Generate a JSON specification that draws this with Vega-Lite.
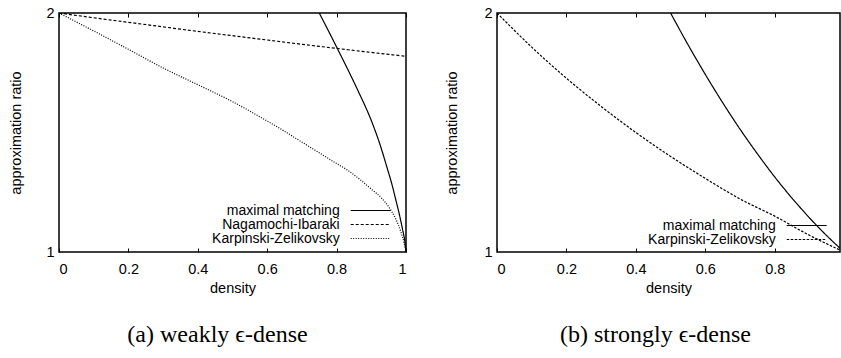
{
  "$schema": "https://vega.github.io/schema/vega-lite/v6.json",
  "background": "white",
  "padding": {"left": 8, "top": 4, "right": 0, "bottom": 5},
  "bounds": "flush",
  "spacing": 91,
  "resolve": {"scale": {"strokeDash": "independent", "x": "independent", "y": "independent"}, "legend": {"strokeDash": "independent"}},
  "config": {
    "font": "Liberation Sans",
    "view": {"stroke": "black", "strokeWidth": 1.5},
    "axis": {"domain": false, "grid": false, "tickColor": "black", "tickSize": 4, "tickWidth": 1, "labelColor": "black", "titleColor": "black", "labelFont": "Liberation Sans", "titleFont": "Liberation Sans", "labelFontSize": 14.5, "titleFontSize": 14.5, "titleFontWeight": "normal"},
    "legend": {"orient": "none", "title": null, "symbolType": "M-10,0H10", "symbolSize": 16, "symbolStrokeWidth": 1.2, "symbolStrokeColor": "black", "symbolFillColor": "transparent", "labelAlign": "right", "labelOffset": -38, "labelFontSize": 14, "labelColor": "black", "labelFont": "Liberation Sans", "rowPadding": 0, "padding": 0, "labelLimit": 0}
  },
  "datasets": {
    "weak": [
      {"series": "maximal matching", "density": 0.75, "ratio": 2.0},
      {"series": "maximal matching", "density": 0.803, "ratio": 1.849},
      {"series": "maximal matching", "density": 0.86, "ratio": 1.68},
      {"series": "maximal matching", "density": 0.9, "ratio": 1.55},
      {"series": "maximal matching", "density": 0.925, "ratio": 1.45},
      {"series": "maximal matching", "density": 0.945, "ratio": 1.355},
      {"series": "maximal matching", "density": 0.96, "ratio": 1.28},
      {"series": "maximal matching", "density": 0.972, "ratio": 1.21},
      {"series": "maximal matching", "density": 0.982, "ratio": 1.15},
      {"series": "maximal matching", "density": 0.99, "ratio": 1.095},
      {"series": "maximal matching", "density": 0.996, "ratio": 1.05},
      {"series": "maximal matching", "density": 1.0, "ratio": 1.0},
      {"series": "Nagamochi-Ibaraki", "density": 0.0, "ratio": 2.0},
      {"series": "Nagamochi-Ibaraki", "density": 0.1, "ratio": 1.98},
      {"series": "Nagamochi-Ibaraki", "density": 0.2, "ratio": 1.961},
      {"series": "Nagamochi-Ibaraki", "density": 0.3, "ratio": 1.942},
      {"series": "Nagamochi-Ibaraki", "density": 0.4, "ratio": 1.923},
      {"series": "Nagamochi-Ibaraki", "density": 0.5, "ratio": 1.905},
      {"series": "Nagamochi-Ibaraki", "density": 0.6, "ratio": 1.887},
      {"series": "Nagamochi-Ibaraki", "density": 0.7, "ratio": 1.869},
      {"series": "Nagamochi-Ibaraki", "density": 0.8, "ratio": 1.852},
      {"series": "Nagamochi-Ibaraki", "density": 0.9, "ratio": 1.835},
      {"series": "Nagamochi-Ibaraki", "density": 1.0, "ratio": 1.819},
      {"series": "Karpinski-Zelikovsky", "density": 0.0, "ratio": 2.0},
      {"series": "Karpinski-Zelikovsky", "density": 0.1, "ratio": 1.925},
      {"series": "Karpinski-Zelikovsky", "density": 0.2, "ratio": 1.848},
      {"series": "Karpinski-Zelikovsky", "density": 0.3, "ratio": 1.77},
      {"series": "Karpinski-Zelikovsky", "density": 0.4, "ratio": 1.7},
      {"series": "Karpinski-Zelikovsky", "density": 0.5, "ratio": 1.629},
      {"series": "Karpinski-Zelikovsky", "density": 0.6, "ratio": 1.548},
      {"series": "Karpinski-Zelikovsky", "density": 0.65, "ratio": 1.505},
      {"series": "Karpinski-Zelikovsky", "density": 0.7, "ratio": 1.46},
      {"series": "Karpinski-Zelikovsky", "density": 0.75, "ratio": 1.415},
      {"series": "Karpinski-Zelikovsky", "density": 0.8, "ratio": 1.37},
      {"series": "Karpinski-Zelikovsky", "density": 0.832, "ratio": 1.342},
      {"series": "Karpinski-Zelikovsky", "density": 0.87, "ratio": 1.3},
      {"series": "Karpinski-Zelikovsky", "density": 0.9, "ratio": 1.263},
      {"series": "Karpinski-Zelikovsky", "density": 0.93, "ratio": 1.225},
      {"series": "Karpinski-Zelikovsky", "density": 0.952, "ratio": 1.185},
      {"series": "Karpinski-Zelikovsky", "density": 0.97, "ratio": 1.14},
      {"series": "Karpinski-Zelikovsky", "density": 0.985, "ratio": 1.085},
      {"series": "Karpinski-Zelikovsky", "density": 0.995, "ratio": 1.035},
      {"series": "Karpinski-Zelikovsky", "density": 1.0, "ratio": 1.0}
    ],
    "strong": [
      {"series": "maximal matching", "density": 0.5, "ratio": 2.0},
      {"series": "maximal matching", "density": 0.55, "ratio": 1.868},
      {"series": "maximal matching", "density": 0.6, "ratio": 1.743},
      {"series": "maximal matching", "density": 0.65, "ratio": 1.625},
      {"series": "maximal matching", "density": 0.7, "ratio": 1.514},
      {"series": "maximal matching", "density": 0.75, "ratio": 1.411},
      {"series": "maximal matching", "density": 0.8, "ratio": 1.314},
      {"series": "maximal matching", "density": 0.85, "ratio": 1.225},
      {"series": "maximal matching", "density": 0.9, "ratio": 1.143},
      {"series": "maximal matching", "density": 0.95, "ratio": 1.068},
      {"series": "maximal matching", "density": 1.0, "ratio": 1.0},
      {"series": "Karpinski-Zelikovsky", "density": 0.0, "ratio": 2.0},
      {"series": "Karpinski-Zelikovsky", "density": 0.1, "ratio": 1.857},
      {"series": "Karpinski-Zelikovsky", "density": 0.2, "ratio": 1.727},
      {"series": "Karpinski-Zelikovsky", "density": 0.3, "ratio": 1.609},
      {"series": "Karpinski-Zelikovsky", "density": 0.4, "ratio": 1.5},
      {"series": "Karpinski-Zelikovsky", "density": 0.5, "ratio": 1.4},
      {"series": "Karpinski-Zelikovsky", "density": 0.6, "ratio": 1.308},
      {"series": "Karpinski-Zelikovsky", "density": 0.7, "ratio": 1.222},
      {"series": "Karpinski-Zelikovsky", "density": 0.8, "ratio": 1.15},
      {"series": "Karpinski-Zelikovsky", "density": 0.9, "ratio": 1.07},
      {"series": "Karpinski-Zelikovsky", "density": 1.0, "ratio": 1.0}
    ]
  },
  "hconcat": [
    {
      "width": 347,
      "height": 239,
      "title": {"text": "(a) weakly ϵ-dense", "orient": "bottom", "anchor": "middle", "font": "Liberation Serif", "fontSize": 24, "fontWeight": "normal", "color": "black", "offset": 28, "dx": -15},
      "data": {"name": "weak"},
      "layer": [
        {
          "mark": {"type": "line", "color": "black", "strokeWidth": 1.2, "clip": true, "interpolate": "monotone"},
          "encoding": {
            "x": {"field": "density", "type": "quantitative", "scale": {"domain": [0, 1], "nice": false, "zero": false}, "axis": {"orient": "bottom", "offset": -4, "values": [0, 0.2, 0.4, 0.6, 0.8, 1], "format": "~g", "labelPadding": 10, "title": "density", "titlePadding": 6}},
            "y": {"field": "ratio", "type": "quantitative", "scale": {"domain": [1, 2], "nice": false, "zero": false}, "axis": {"values": [1, 2], "format": "d", "ticks": false, "title": "approximation ratio", "labelPadding": 5, "titlePadding": 22}},
            "strokeDash": {"field": "series", "type": "nominal", "scale": {"domain": ["maximal matching", "Nagamochi-Ibaraki", "Karpinski-Zelikovsky"], "range": [[1, 0], [3, 2], [1, 1.5]]}, "legend": {"legendX": 304.7, "legendY": 190.5}}
          }
        },
        {
          "mark": {"type": "point", "opacity": 0},
          "encoding": {
            "x": {"field": "density", "type": "quantitative", "axis": {"orient": "top", "offset": -4, "values": [0, 0.2, 0.4, 0.6, 0.8, 1], "labels": false, "title": null}}
          }
        }
      ]
    },
    {
      "width": 343,
      "height": 239,
      "title": {"text": "(b) strongly ϵ-dense", "orient": "bottom", "anchor": "middle", "font": "Liberation Serif", "fontSize": 24, "fontWeight": "normal", "color": "black", "offset": 28, "dx": -13},
      "data": {"name": "strong"},
      "layer": [
        {
          "mark": {"type": "line", "color": "black", "strokeWidth": 1.2, "clip": true, "interpolate": "monotone"},
          "encoding": {
            "x": {"field": "density", "type": "quantitative", "scale": {"domain": [0, 0.988], "nice": false, "zero": false}, "axis": {"orient": "bottom", "offset": -4, "values": [0, 0.2, 0.4, 0.6, 0.8], "format": "~g", "labelPadding": 10, "title": "density", "titlePadding": 6}},
            "y": {"field": "ratio", "type": "quantitative", "scale": {"domain": [1, 2], "nice": false, "zero": false}, "axis": {"values": [1, 2], "format": "d", "ticks": false, "title": "approximation ratio", "labelPadding": 5, "titlePadding": 24}},
            "strokeDash": {"field": "series", "type": "nominal", "scale": {"domain": ["maximal matching", "Karpinski-Zelikovsky"], "range": [[1, 0], [2.5, 1.5]]}, "legend": {"legendX": 302.7, "legendY": 205.5}}
          }
        },
        {
          "mark": {"type": "point", "opacity": 0},
          "encoding": {
            "x": {"field": "density", "type": "quantitative", "axis": {"orient": "top", "offset": -4, "values": [0, 0.2, 0.4, 0.6, 0.8], "labels": false, "title": null}}
          }
        }
      ]
    }
  ]
}
